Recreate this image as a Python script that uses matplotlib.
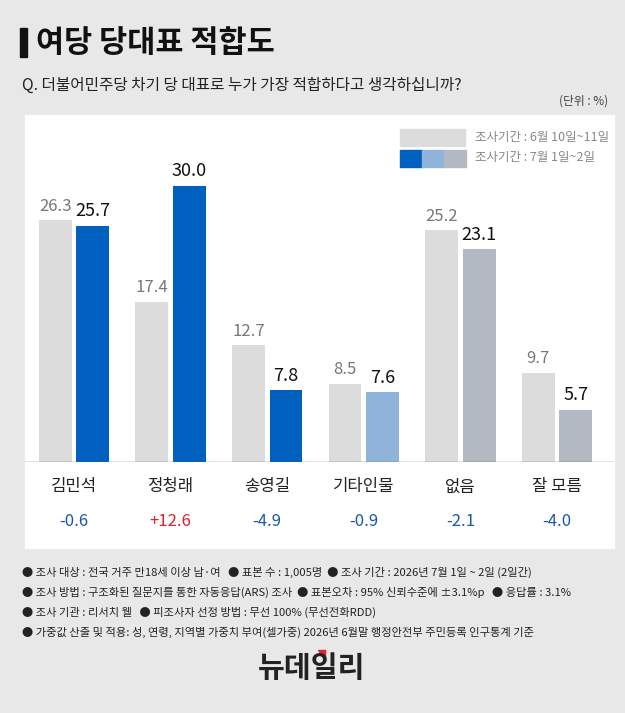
import matplotlib.pyplot as plt
from matplotlib.patches import Rectangle, Polygon

plt.rcParams['font.family'] = ['Noto Sans CJK KR', 'DejaVu Sans']

categories = ['김민석', '정청래', '송영길', '기타인물', '없음', '잘 모름']
june = [26.3, 17.4, 12.7, 8.5, 25.2, 9.7]
july = [25.7, 30.0, 7.8, 7.6, 23.1, 5.7]
diffs = ['-0.6', '+12.6', '-4.9', '-0.9', '-2.1', '-4.0']
july_colors = ['#0060c0', '#0060c0', '#0060c0', '#8fb3d9', '#b3b9c2', '#b3b9c2']
notes = [
    '● 조사 대상 : 전국 거주 만18세 이상 남·여   ● 표본 수 : 1,005명  ● 조사 기간 : 2026년 7월 1일 ~ 2일 (2일간)',
    '● 조사 방법 : 구조화된 질문지를 통한 자동응답(ARS) 조사  ● 표본오차 : 95% 신뢰수준에 ±3.1%p   ● 응답률 : 3.1%',
    '● 조사 기관 : 리서치 웰   ● 피조사자 선정 방법 : 무선 100% (무선전화RDD)',
    '● 가중값 산출 및 적용: 성, 연령, 지역별 가중치 부여(셀가중) 2026년 6월말 행정안전부 주민등록 인구통계 기준',
]

W, H = 625, 713
fig = plt.figure(figsize=(W / 100, H / 100), dpi=100, facecolor='#e8e8e8')
bg = fig.add_axes([0, 0, 1, 1])
bg.set_xlim(0, W)
bg.set_ylim(H, 0)
bg.axis('off')

# white panel
bg.add_patch(Rectangle((25, 115), 589, 433, color='white', zorder=0))
# title
bg.add_patch(Rectangle((20, 28), 7, 29, color='#111111'))
bg.text(36, 43, '여당 당대표 적합도', fontsize=22, fontweight='bold', va='center', color='#111111')
bg.text(22, 85, 'Q. 더불어민주당 차기 당 대표로 누가 가장 적합하다고 생각하십니까?', fontsize=11.3, va='center', color='#222222')
bg.text(608, 101, '(단위 : %)', fontsize=8.5, va='center', ha='right', color='#444444')

# legend
bg.add_patch(Rectangle((400, 129), 65, 17, color='#dcdcdc'))
bg.text(475, 137, '조사기간 : 6월 10일~11일', fontsize=9, va='center', color='#888888')
for i, c in enumerate(['#0060c0', '#8fb3d9', '#b3b9c2']):
    bg.add_patch(Rectangle((400 + i * 22, 150), 22, 17, color=c))
bg.text(475, 158, '조사기간 : 7월 1일~2일', fontsize=9, va='center', color='#888888')

# bar axes: baseline at y=462, 9.2 px per unit
x0, x1, base, top = 25, 614, 462, 115
ax = fig.add_axes([x0 / W, 1 - base / H, (x1 - x0) / W, (base - top) / H])
ax.set_facecolor('none')
step = 96.6
c0 = 74
ax.set_xlim(-(c0 - x0) / step, (x1 - c0) / step)
ax.set_ylim(0, (base - top) / 9.2)
ax.axis('off')
xs = list(range(len(categories)))
w = 0.34
off = 0.195
ax.bar([x - off for x in xs], june, width=w, color='#dcdcdc')
ax.bar([x + off for x in xs], july, width=w, color=july_colors)
for x, a, b in zip(xs, june, july):
    ax.text(x - off, a + 0.6, f'{a:.1f}', ha='center', va='bottom', fontsize=12, color='#777777')
    ax.text(x + off, b + 0.6, f'{b:.1f}', ha='center', va='bottom', fontsize=13, color='#111111')
ax.axhline(0, color='#666666', lw=1)

for i, (cat, d) in enumerate(zip(categories, diffs)):
    cx = c0 + step * i
    bg.text(cx, 487, cat, ha='center', va='center', fontsize=12, color='#222222')
    bg.text(cx, 521, d, ha='center', va='center', fontsize=12,
            color='#e0202a' if d.startswith('+') else '#1a56b0')

for i, n in enumerate(notes):
    bg.text(22, 572 + i * 20, n, fontsize=8.1, va='center', color='#222222')

# logo
bg.text(312, 668, '뉴데일리', ha='center', va='center', fontsize=21, fontweight='bold', color='#222222')
bg.add_patch(Polygon([(318, 650), (325, 650), (325, 659)], color='#e0202a'))

fig.savefig('out.png', dpi=100, facecolor=fig.get_facecolor())
